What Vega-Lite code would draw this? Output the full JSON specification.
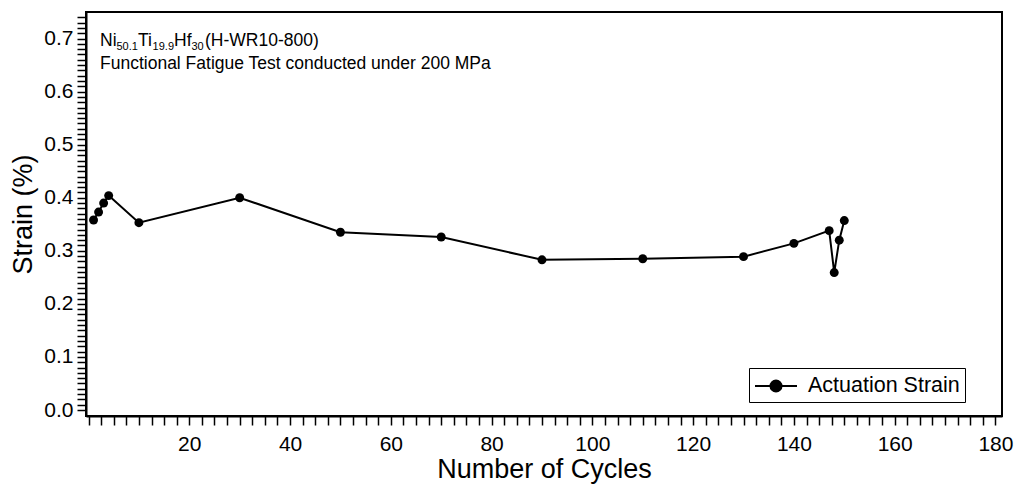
{
  "$schema": "https://vega.github.io/schema/vega-lite/v6.json",
  "width": 916,
  "height": 404,
  "autosize": {"type": "none"},
  "padding": {"left": 86, "top": 12, "right": 14, "bottom": 70},
  "background": "white",
  "config": {
    "view": {"stroke": "black", "strokeWidth": 2},
    "font": "Liberation Sans",
    "axis": {
      "grid": false,
      "domainColor": "black",
      "domainWidth": 2,
      "tickColor": "black",
      "tickWidth": 1.5,
      "labelColor": "black",
      "titleColor": "black",
      "labelFont": "Liberation Sans",
      "titleFont": "Liberation Sans",
      "labelFontSize": 21,
      "titleFontSize": 27,
      "titleFontWeight": "normal",
      "labelOverlap": false,
      "labelFlush": false
    }
  },
  "datasets": {
    "strain": [
      {"cycles": 1, "strain": 0.358, "series": "Actuation Strain"},
      {"cycles": 2, "strain": 0.373, "series": "Actuation Strain"},
      {"cycles": 3, "strain": 0.390, "series": "Actuation Strain"},
      {"cycles": 4, "strain": 0.404, "series": "Actuation Strain"},
      {"cycles": 10, "strain": 0.353, "series": "Actuation Strain"},
      {"cycles": 30, "strain": 0.400, "series": "Actuation Strain"},
      {"cycles": 50, "strain": 0.335, "series": "Actuation Strain"},
      {"cycles": 70, "strain": 0.326, "series": "Actuation Strain"},
      {"cycles": 90, "strain": 0.283, "series": "Actuation Strain"},
      {"cycles": 110, "strain": 0.285, "series": "Actuation Strain"},
      {"cycles": 130, "strain": 0.289, "series": "Actuation Strain"},
      {"cycles": 140, "strain": 0.314, "series": "Actuation Strain"},
      {"cycles": 147, "strain": 0.338, "series": "Actuation Strain"},
      {"cycles": 148, "strain": 0.259, "series": "Actuation Strain"},
      {"cycles": 149, "strain": 0.320, "series": "Actuation Strain"},
      {"cycles": 150, "strain": 0.357, "series": "Actuation Strain"}
    ],
    "mainText": [
      {"t": "Ni", "x": 2.28, "y": 0.6859},
      {"t": "Ti", "x": 9.82, "y": 0.6859},
      {"t": "Hf", "x": 16.97, "y": 0.6859},
      {"t": "(H-WR10-800)", "x": 23.12, "y": 0.6859},
      {"t": "Functional Fatigue Test conducted under 200 MPa", "x": 2.28, "y": 0.6417}
    ],
    "subText": [
      {"t": "50.1", "x": 5.55, "y": 0.6793},
      {"t": "19.9", "x": 12.72, "y": 0.6793},
      {"t": "30", "x": 20.44, "y": 0.6793}
    ]
  },
  "layer": [
    {
      "data": {"name": "strain"},
      "mark": {"type": "line", "color": "black", "strokeWidth": 2},
      "encoding": {
        "x": {
          "field": "cycles",
          "type": "quantitative",
          "scale": {"domain": [-0.5, 181.3], "nice": false, "zero": false},
          "axis": {
            "title": "Number of Cycles",
            "values": [0,2.5,5,7.5,10,12.5,15,17.5,20,22.5,25,27.5,30,32.5,35,37.5,40,42.5,45,47.5,50,52.5,55,57.5,60,62.5,65,67.5,70,72.5,75,77.5,80,82.5,85,87.5,90,92.5,95,97.5,100,102.5,105,107.5,110,112.5,115,117.5,120,122.5,125,127.5,130,132.5,135,137.5,140,142.5,145,147.5,150,152.5,155,157.5,160,162.5,165,167.5,170,172.5,175,177.5,180],
            "tickCount": 500,
            "labelExpr": "(datum.value % 20 === 0 && datum.value > 0) ? format(datum.value, 'd') : ''",
            "tickSize": 9,
            "labelOverlap": false,
            "labelPadding": 8,
            "titlePadding": 2,
            "encode": {"ticks": {"update": {"y2": {"signal": "datum.value % 20 === 0 ? 9 : 6"}}}}
          }
        },
        "y": {
          "field": "strain",
          "type": "quantitative",
          "scale": {"domain": [-0.0113, 0.75], "nice": false, "zero": false},
          "axis": {
            "title": "Strain (%)",
            "values": [0,0.01,0.02,0.03,0.04,0.05,0.06,0.07,0.08,0.09,0.1,0.11,0.12,0.13,0.14,0.15,0.16,0.17,0.18,0.19,0.2,0.21,0.22,0.23,0.24,0.25,0.26,0.27,0.28,0.29,0.3,0.31,0.32,0.33,0.34,0.35,0.36,0.37,0.38,0.39,0.4,0.41,0.42,0.43,0.44,0.45,0.46,0.47,0.48,0.49,0.5,0.51,0.52,0.53,0.54,0.55,0.56,0.57,0.58,0.59,0.6,0.61,0.62,0.63,0.64,0.65,0.66,0.67,0.68,0.69,0.7,0.71,0.72,0.73,0.74],
            "tickCount": 500,
            "labelExpr": "abs(datum.value * 10 - round(datum.value * 10)) < 0.001 ? format(datum.value, '.1f') : ''",
            "tickSize": 9,
            "labelOverlap": false,
            "labelPadding": 4,
            "titlePadding": 6,
            "encode": {"ticks": {"update": {"x2": {"signal": "abs(datum.value * 10 - round(datum.value * 10)) < 0.001 ? -9 : -5"}}}}
          }
        }
      }
    },
    {
      "data": {"name": "strain"},
      "mark": {"type": "point", "filled": true, "size": 80, "opacity": 1},
      "encoding": {
        "x": {"field": "cycles", "type": "quantitative"},
        "y": {"field": "strain", "type": "quantitative"},
        "color": {
          "field": "series",
          "type": "nominal",
          "scale": {"range": ["black"]},
          "legend": {
            "title": null,
            "orient": "none",
            "legendX": 663,
            "legendY": 356,
            "padding": 5,
            "strokeColor": "black",
            "fillColor": "white",
            "cornerRadius": 0,
            "labelFont": "Liberation Sans",
            "labelFontSize": 21.5,
            "labelColor": "black",
            "labelOffset": 28,
            "symbolType": "M-1,0L2.5,0M0.29,0A0.46,0.46 0 1,1 1.21,0A0.46,0.46 0 1,1 0.29,0Z",
            "symbolSize": 576,
            "symbolStrokeWidth": 2,
            "symbolStrokeColor": "black",
            "symbolFillColor": "black",
            "encode": {"symbols": {"update": {"fill": {"value": "black"}, "stroke": {"value": "black"}, "strokeWidth": {"value": 2}, "opacity": {"value": 1}}}}
          }
        }
      }
    },
    {
      "data": {"name": "mainText"},
      "mark": {"type": "text", "align": "left", "baseline": "alphabetic", "fontSize": 17.5, "font": "Liberation Sans", "color": "black"},
      "encoding": {
        "x": {"field": "x", "type": "quantitative"},
        "y": {"field": "y", "type": "quantitative"},
        "text": {"field": "t"}
      }
    },
    {
      "data": {"name": "subText"},
      "mark": {"type": "text", "align": "left", "baseline": "alphabetic", "fontSize": 11, "font": "Liberation Sans", "color": "black"},
      "encoding": {
        "x": {"field": "x", "type": "quantitative"},
        "y": {"field": "y", "type": "quantitative"},
        "text": {"field": "t"}
      }
    }
  ]
}
